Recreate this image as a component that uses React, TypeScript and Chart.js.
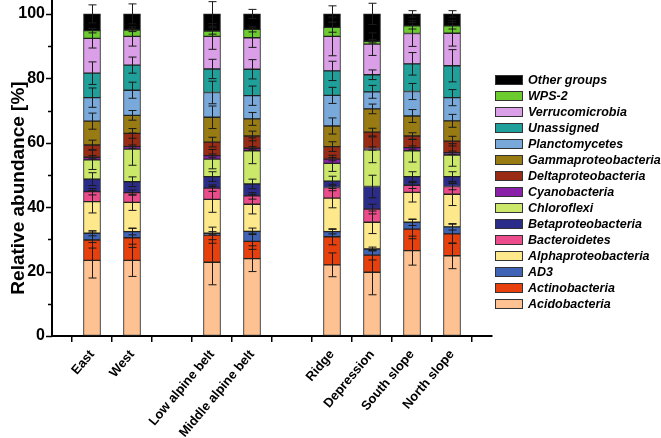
import React, { useEffect, useRef } from "react";
import { Chart, registerables } from "chart.js";

Chart.register(...registerables);

// Site groups (gaps between groups on the axis)
const siteGroups: string[][] = [
  ["East", "West"],
  ["Low alpine belt", "Middle alpine belt"],
  ["Ridge", "Depression", "South slope", "North slope"],
];

const taxa = [
  "Acidobacteria",
  "Actinobacteria",
  "AD3",
  "Alphaproteobacteria",
  "Bacteroidetes",
  "Betaproteobacteria",
  "Chloroflexi",
  "Cyanobacteria",
  "Deltaproteobacteria",
  "Gammaproteobacteria",
  "Planctomycetes",
  "Unassigned",
  "Verrucomicrobia",
  "WPS-2",
  "Other groups",
];

const taxaColors = [
  "#FDC192",
  "#E8400C",
  "#3F63B5",
  "#FDE98B",
  "#EC4B8C",
  "#2B2C8A",
  "#CBE86B",
  "#8A21A8",
  "#992B14",
  "#997B14",
  "#78A9DA",
  "#1FA09B",
  "#DA9FE6",
  "#6CCB2F",
  "#000000",
];

// Values per site: East, West, Low alpine belt, Middle alpine belt, Ridge, Depression, South slope, North slope
const acidobacteria = [23.5, 23.5, 22.9, 24.0, 22.1, 19.8, 26.5, 24.9];
const actinobacteria = [6.3, 7.0, 8.4, 5.4, 8.7, 5.3, 6.7, 6.8];
const ad3 = [2.1, 1.9, 0.6, 3.1, 1.6, 1.9, 2.1, 2.2];
const alphaproteobacteria = [9.8, 9.1, 10.5, 8.4, 10.4, 8.3, 9.3, 10.1];
const bacteroidetes = [3.1, 3.0, 3.5, 2.6, 3.3, 4.1, 2.2, 2.4];
const betaproteobacteria = [3.9, 3.4, 3.6, 3.7, 2.0, 7.0, 2.7, 3.1];
const chloroflexi = [6.0, 10.1, 5.4, 10.3, 5.5, 11.4, 8.0, 6.7];
const cyanobacteria = [0.8, 0.8, 1.1, 0.8, 1.3, 0.4, 1.0, 0.7];
const deltaproteobacteria = [3.8, 4.1, 4.2, 3.8, 3.9, 5.1, 3.6, 3.6];
const gammaproteobacteria = [7.4, 5.6, 7.7, 5.3, 6.4, 7.2, 6.2, 6.3];
const planctomycetes = [7.3, 7.8, 7.7, 7.2, 9.5, 5.3, 7.6, 7.2];
const unassigned = [7.6, 7.8, 7.3, 8.2, 7.6, 5.3, 8.6, 9.9];
const verrucomicrobia = [10.8, 8.9, 10.1, 9.8, 10.7, 9.5, 9.4, 10.1];
const wps2 = [2.4, 2.0, 1.7, 2.6, 2.8, 0.9, 2.4, 2.3];
const otherGroups = [5.2, 5.0, 5.3, 4.8, 4.2, 8.5, 3.7, 3.7];

// Standard deviations (error bars) per site
const acidobacteriaSD = [5.5, 5.0, 7.0, 4.0, 3.7, 7.0, 4.5, 4.0];
const actinobacteriaSD = [2.5, 3.0, 2.5, 2.5, 2.5, 1.5, 3.0, 3.0];
const ad3SD = [0.8, 1.0, 0.5, 1.0, 0.7, 0.6, 1.0, 1.0];
const alphaproteobacteriaSD = [3.5, 2.5, 4.0, 3.0, 3.0, 3.5, 3.0, 3.5];
const bacteroidetesSD = [1.0, 0.8, 1.0, 1.0, 1.0, 1.5, 1.0, 1.0];
const betaproteobacteriaSD = [2.0, 1.5, 1.5, 1.5, 1.5, 3.5, 1.5, 1.5];
const chloroflexiSD = [3.0, 5.0, 3.0, 4.0, 2.5, 4.0, 3.5, 3.5];
const cyanobacteriaSD = [0.5, 0.5, 0.5, 0.5, 0.5, 0.5, 0.5, 0.5];
const deltaproteobacteriaSD = [1.5, 1.5, 1.5, 1.5, 1.5, 1.2, 1.0, 1.5];
const gammaproteobacteriaSD = [2.5, 1.5, 3.5, 2.0, 2.5, 1.5, 2.0, 2.0];
const planctomycetesSD = [3.0, 2.5, 3.5, 3.0, 2.5, 2.0, 2.5, 2.5];
const unassignedSD = [3.5, 2.5, 3.0, 3.0, 3.0, 1.5, 3.5, 5.0];
const verrucomicrobiaSD = [3.0, 3.0, 4.0, 3.0, 6.0, 3.5, 4.0, 4.0];
const wps2SD = [0.7, 0.5, 1.0, 0.8, 1.5, 0.5, 1.0, 1.0];
const otherGroupsSD = [2.8, 3.1, 3.8, 1.4, 2.5, 3.3, 1.0, 1.0];

const yTickValues = [0, 20, 40, 60, 80, 100];
const yMinorTickValues = [10, 30, 50, 70, 90];
const yAxisTitle = "Relative abundance [%]";

const seriesValues = [
  acidobacteria, actinobacteria, ad3, alphaproteobacteria, bacteroidetes,
  betaproteobacteria, chloroflexi, cyanobacteria, deltaproteobacteria,
  gammaproteobacteria, planctomycetes, unassigned, verrucomicrobia, wps2, otherGroups,
];
const seriesSD = [
  acidobacteriaSD, actinobacteriaSD, ad3SD, alphaproteobacteriaSD, bacteroidetesSD,
  betaproteobacteriaSD, chloroflexiSD, cyanobacteriaSD, deltaproteobacteriaSD,
  gammaproteobacteriaSD, planctomycetesSD, unassignedSD, verrucomicrobiaSD, wps2SD, otherGroupsSD,
];

// Build axis slots with blank gaps between groups
const axisLabels: string[] = [""];
const siteSlot: number[] = [];
siteGroups.forEach((g) => {
  g.forEach((s) => {
    siteSlot.push(axisLabels.length);
    axisLabels.push(s);
  });
  axisLabels.push("");
});

function toSlots(arr: number[]): (number | null)[] {
  const out: (number | null)[] = axisLabels.map(() => null);
  arr.forEach((v, i) => {
    out[siteSlot[i]] = v;
  });
  return out;
}

const errorBarPlugin = {
  id: "errorBars",
  afterDatasetsDraw(chart: any) {
    const ctx = chart.ctx;
    const y = chart.scales.y;
    const unit = y.getPixelForValue(0) - y.getPixelForValue(1);
    ctx.save();
    ctx.strokeStyle = "#1a1a1a";
    ctx.lineWidth = 1;
    chart.data.datasets.forEach((ds: any, di: number) => {
      const meta = chart.getDatasetMeta(di);
      meta.data.forEach((bar: any, idx: number) => {
        const sd = ds.errors[idx];
        if (sd == null || ds.data[idx] == null) return;
        const cx = Math.round(bar.x) + 0.5;
        const top = bar.y;
        const hi = top - sd * unit;
        const lo = top + sd * unit;
        const cap = 4;
        ctx.beginPath();
        ctx.moveTo(cx, hi);
        ctx.lineTo(cx, lo);
        ctx.moveTo(cx - cap, hi);
        ctx.lineTo(cx + cap, hi);
        ctx.moveTo(cx - cap, lo);
        ctx.lineTo(cx + cap, lo);
        ctx.stroke();
      });
    });
    ctx.restore();
  },
};

const decorPlugin = {
  id: "decor",
  afterDraw(chart: any) {
    const ctx = chart.ctx;
    const y = chart.scales.y;
    const area = chart.chartArea;
    ctx.save();
    // y-axis ticks (major and minor)
    ctx.strokeStyle = "#000";
    ctx.lineWidth = 1.5;
    [...yTickValues, ...yMinorTickValues].forEach((v) => {
      const py = Math.round(y.getPixelForValue(v)) + 0.5;
      const len = yTickValues.includes(v) ? 6 : 4;
      ctx.beginPath();
      ctx.moveTo(area.left - len, py);
      ctx.lineTo(area.left, py);
      ctx.stroke();
    });
    // y-axis title
    ctx.fillStyle = "#000";
    ctx.font = "bold 19px Arial, 'Liberation Sans', sans-serif";
    ctx.textAlign = "center";
    ctx.textBaseline = "middle";
    ctx.translate(19, 188);
    ctx.rotate(-Math.PI / 2);
    ctx.fillText(yAxisTitle, 0, 0);
    ctx.restore();

    // legend (reversed order)
    ctx.save();
    const lx = area.right + 3;
    const ly = 75;
    const pitch = 16;
    ctx.font = "italic bold 12.5px Arial, 'Liberation Sans', sans-serif";
    ctx.textAlign = "left";
    ctx.textBaseline = "middle";
    const n = chart.data.datasets.length;
    for (let i = 0; i < n; i++) {
      const ds = chart.data.datasets[n - 1 - i];
      const top = ly + i * pitch;
      ctx.fillStyle = ds.backgroundColor;
      ctx.fillRect(lx, top, 28, 10);
      ctx.strokeStyle = "#333";
      ctx.lineWidth = 1;
      ctx.strokeRect(lx + 0.5, top + 0.5, 27, 9);
      ctx.fillStyle = "#000";
      ctx.fillText(ds.label, lx + 33, top + 5.5);
    }
    ctx.restore();
  },
};

export default function App() {
  const canvasRef = useRef<HTMLCanvasElement | null>(null);

  useEffect(() => {
    if (!canvasRef.current) return;
    const datasets = taxa.map((t, i) => ({
      label: t,
      data: toSlots(seriesValues[i]),
      errors: toSlots(seriesSD[i]),
      backgroundColor: taxaColors[i],
      borderColor: "#222",
      borderWidth: 1,
      borderSkipped: false,
      barThickness: 17,
    }));

    const chart = new Chart(canvasRef.current, {
      type: "bar",
      data: { labels: axisLabels, datasets: datasets as any },
      options: {
        responsive: false,
        animation: false,
        layout: { padding: { top: 1, right: 169, left: 0, bottom: 0 } },
        plugins: {
          legend: { display: false },
          tooltip: { enabled: false },
        },
        scales: {
          x: {
            stacked: true,
            offset: false,
            grid: {
              display: true,
              drawOnChartArea: false,
              drawTicks: true,
              tickLength: 6,
              color: "#000",
              lineWidth: 1.5,
            },
            border: { display: true, color: "#000", width: 2 },
            ticks: {
              autoSkip: false,
              minRotation: 50,
              maxRotation: 50,
              padding: 5,
              color: "#000",
              font: { family: "Arial, 'Liberation Sans', sans-serif", size: 13, weight: "bold" },
            },
            afterFit(scale: any) {
              scale.height = 102;
              scale.paddingLeft = 0;
              scale.paddingRight = 0;
            },
          },
          y: {
            stacked: true,
            min: 0,
            max: 104,
            grid: { display: true, drawOnChartArea: false, drawTicks: false },
            border: { display: true, color: "#000", width: 2 },
            ticks: {
              padding: 7,
              color: "#000",
              font: { family: "Arial, 'Liberation Sans', sans-serif", size: 16, weight: "bold" },
              callback: (v: any) => String(v),
            },
            afterBuildTicks(scale: any) {
              scale.ticks = yTickValues.map((v) => ({ value: v }));
            },
            afterFit(scale: any) {
              scale.width = 52;
              scale.paddingTop = 0;
              scale.paddingBottom = 0;
            },
          },
        },
      },
      plugins: [errorBarPlugin, decorPlugin],
    });
    return () => chart.destroy();
  }, []);

  return (
    <div style={{ position: "fixed", left: 0, top: 0, width: 661, height: 438, background: "#fff" }}>
      <canvas ref={canvasRef} width={661} height={438} style={{ width: 661, height: 438 }} />
    </div>
  );
}
